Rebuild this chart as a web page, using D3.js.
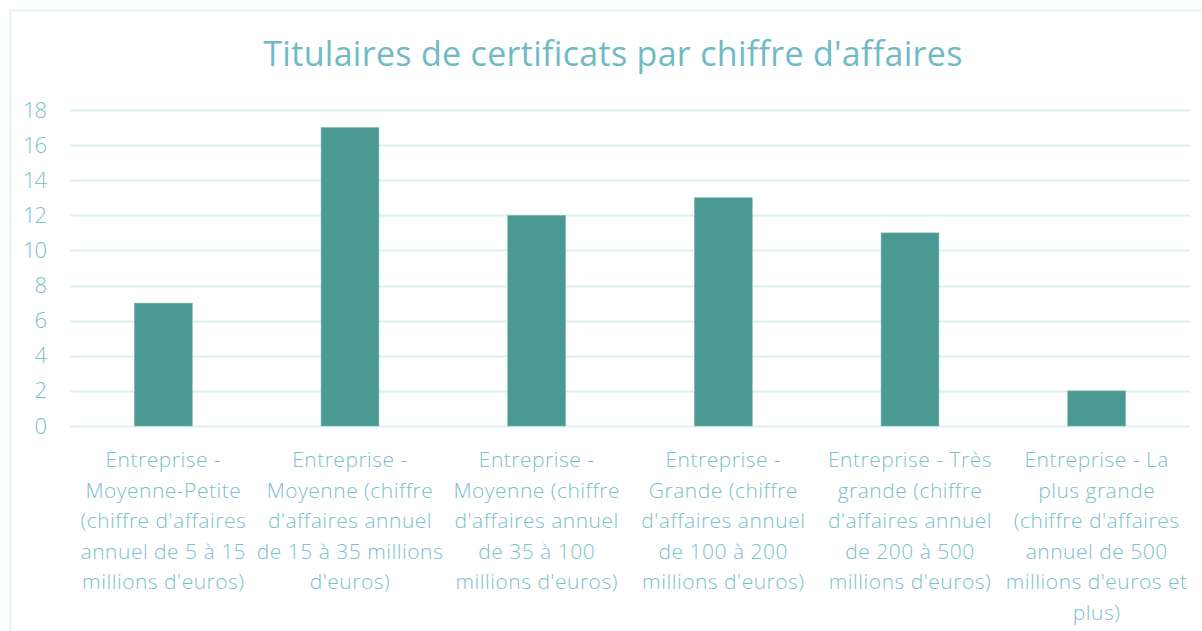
<!DOCTYPE html>
<meta charset="utf-8">
<script src="https://d3js.org/d3.v7.min.js"></script>
<style>
body{ margin:0; background:#fff; }
text{ font-family: "Open Sans", sans-serif; font-weight:300; fill:#7cc1ca; }
</style>
<div id="chart"></div>
<script>

var title = "Titulaires de certificats par chiffre d'affaires";

// category labels, as they wrap under the axis
var categories = [
  ["Entreprise -", "Moyenne-Petite", "(chiffre d'affaires", "annuel de 5 à 15", "millions d'euros)"],
  ["Entreprise -", "Moyenne (chiffre", "d'affaires annuel", "de 15 à 35 millions", "d'euros)"],
  ["Entreprise -", "Moyenne (chiffre", "d'affaires annuel", "de 35 à 100", "millions d'euros)"],
  ["Entreprise -", "Grande (chiffre", "d'affaires annuel", "de 100 à 200", "millions d'euros)"],
  ["Entreprise - Très", "grande (chiffre", "d'affaires annuel", "de 200 à 500", "millions d'euros)"],
  ["Entreprise - La", "plus grande", "(chiffre d'affaires", "annuel de 500", "millions d'euros et", "plus)"]
];
var values = [7, 17, 12, 13, 11, 2];
var yTicks = [0, 2, 4, 6, 8, 10, 12, 14, 16, 18];

var W = 1202, H = 631;
var margin = {top: 110, right: 12, bottom: 205, left: 70};
var width = W - margin.left - margin.right,
    height = H - margin.top - margin.bottom;

var svg = d3.select("#chart")
  .append("svg")
    .attr("width", W)
    .attr("height", H);

// outer frame
svg.append("rect")
  .attr("x", 10.5).attr("y", 10.5)
  .attr("width", W + 20).attr("height", H + 20)
  .attr("fill", "none")
  .attr("stroke", "#dceff2")
  .attr("stroke-width", 1.5);

svg.append("text")
  .attr("x", 613)
  .attr("y", 66)
  .attr("text-anchor", "middle")
  .style("font-size", "34px")
  .style("font-weight", "400")
  .style("letter-spacing", "0.3px")
  .style("fill", "#6fbac4")
  .text(title);

var g = svg.append("g")
  .attr("transform", "translate(" + margin.left + "," + margin.top + ")");

var x = d3.scaleBand()
  .domain(d3.range(values.length))
  .range([0, width])
  .paddingInner(0.69)
  .paddingOuter(0.345);

var y = d3.scaleLinear()
  .domain([0, 18])
  .range([height, 0]);

// grid
g.append("g")
  .selectAll("line")
  .data(yTicks)
  .enter()
  .append("line")
    .attr("x1", 0)
    .attr("x2", width)
    .attr("y1", function(d){ return Math.round(y(d)) + 0.5; })
    .attr("y2", function(d){ return Math.round(y(d)) + 0.5; })
    .attr("stroke", "#dceff2")
    .attr("stroke-width", 2);

// y axis labels
var yAxis = g.append("g")
  .attr("transform", "translate(-24,0)")
  .call(d3.axisLeft(y).tickValues(yTicks).tickSize(0).tickPadding(0));
yAxis.select(".domain").remove();
yAxis.selectAll("text")
  .style("font-size", "22px")
  .style("font-family", "'Open Sans', sans-serif")
  .style("font-weight", "300")
  .style("letter-spacing", "-1px")
  .attr("fill", "#7cc1ca");

// bars
g.append("g")
  .selectAll("rect")
  .data(values)
  .enter()
  .append("rect")
    .attr("x", function(d, i){ return x(i); })
    .attr("y", function(d){ return y(d); })
    .attr("width", x.bandwidth())
    .attr("height", function(d){ return height - y(d); })
    .attr("fill", "#4a9a93")
    .attr("stroke", "#7cb9b3")
    .attr("stroke-width", 0.6);

// category labels
var xAxis = g.append("g")
  .attr("transform", "translate(0," + height + ")");

xAxis.selectAll("text")
  .data(categories)
  .enter()
  .append("text")
    .attr("text-anchor", "middle")
    .attr("transform", function(d, i){ return "translate(" + (x(i) + x.bandwidth() / 2) + ",41)"; })
    .style("font-size", "21px")
    .style("letter-spacing", "0.5px")
    .each(function(lines){
      var t = d3.select(this);
      lines.forEach(function(s, k){
        t.append("tspan")
          .attr("x", 0)
          .attr("y", k * 30.5)
          .text(s);
      });
    });

</script>
